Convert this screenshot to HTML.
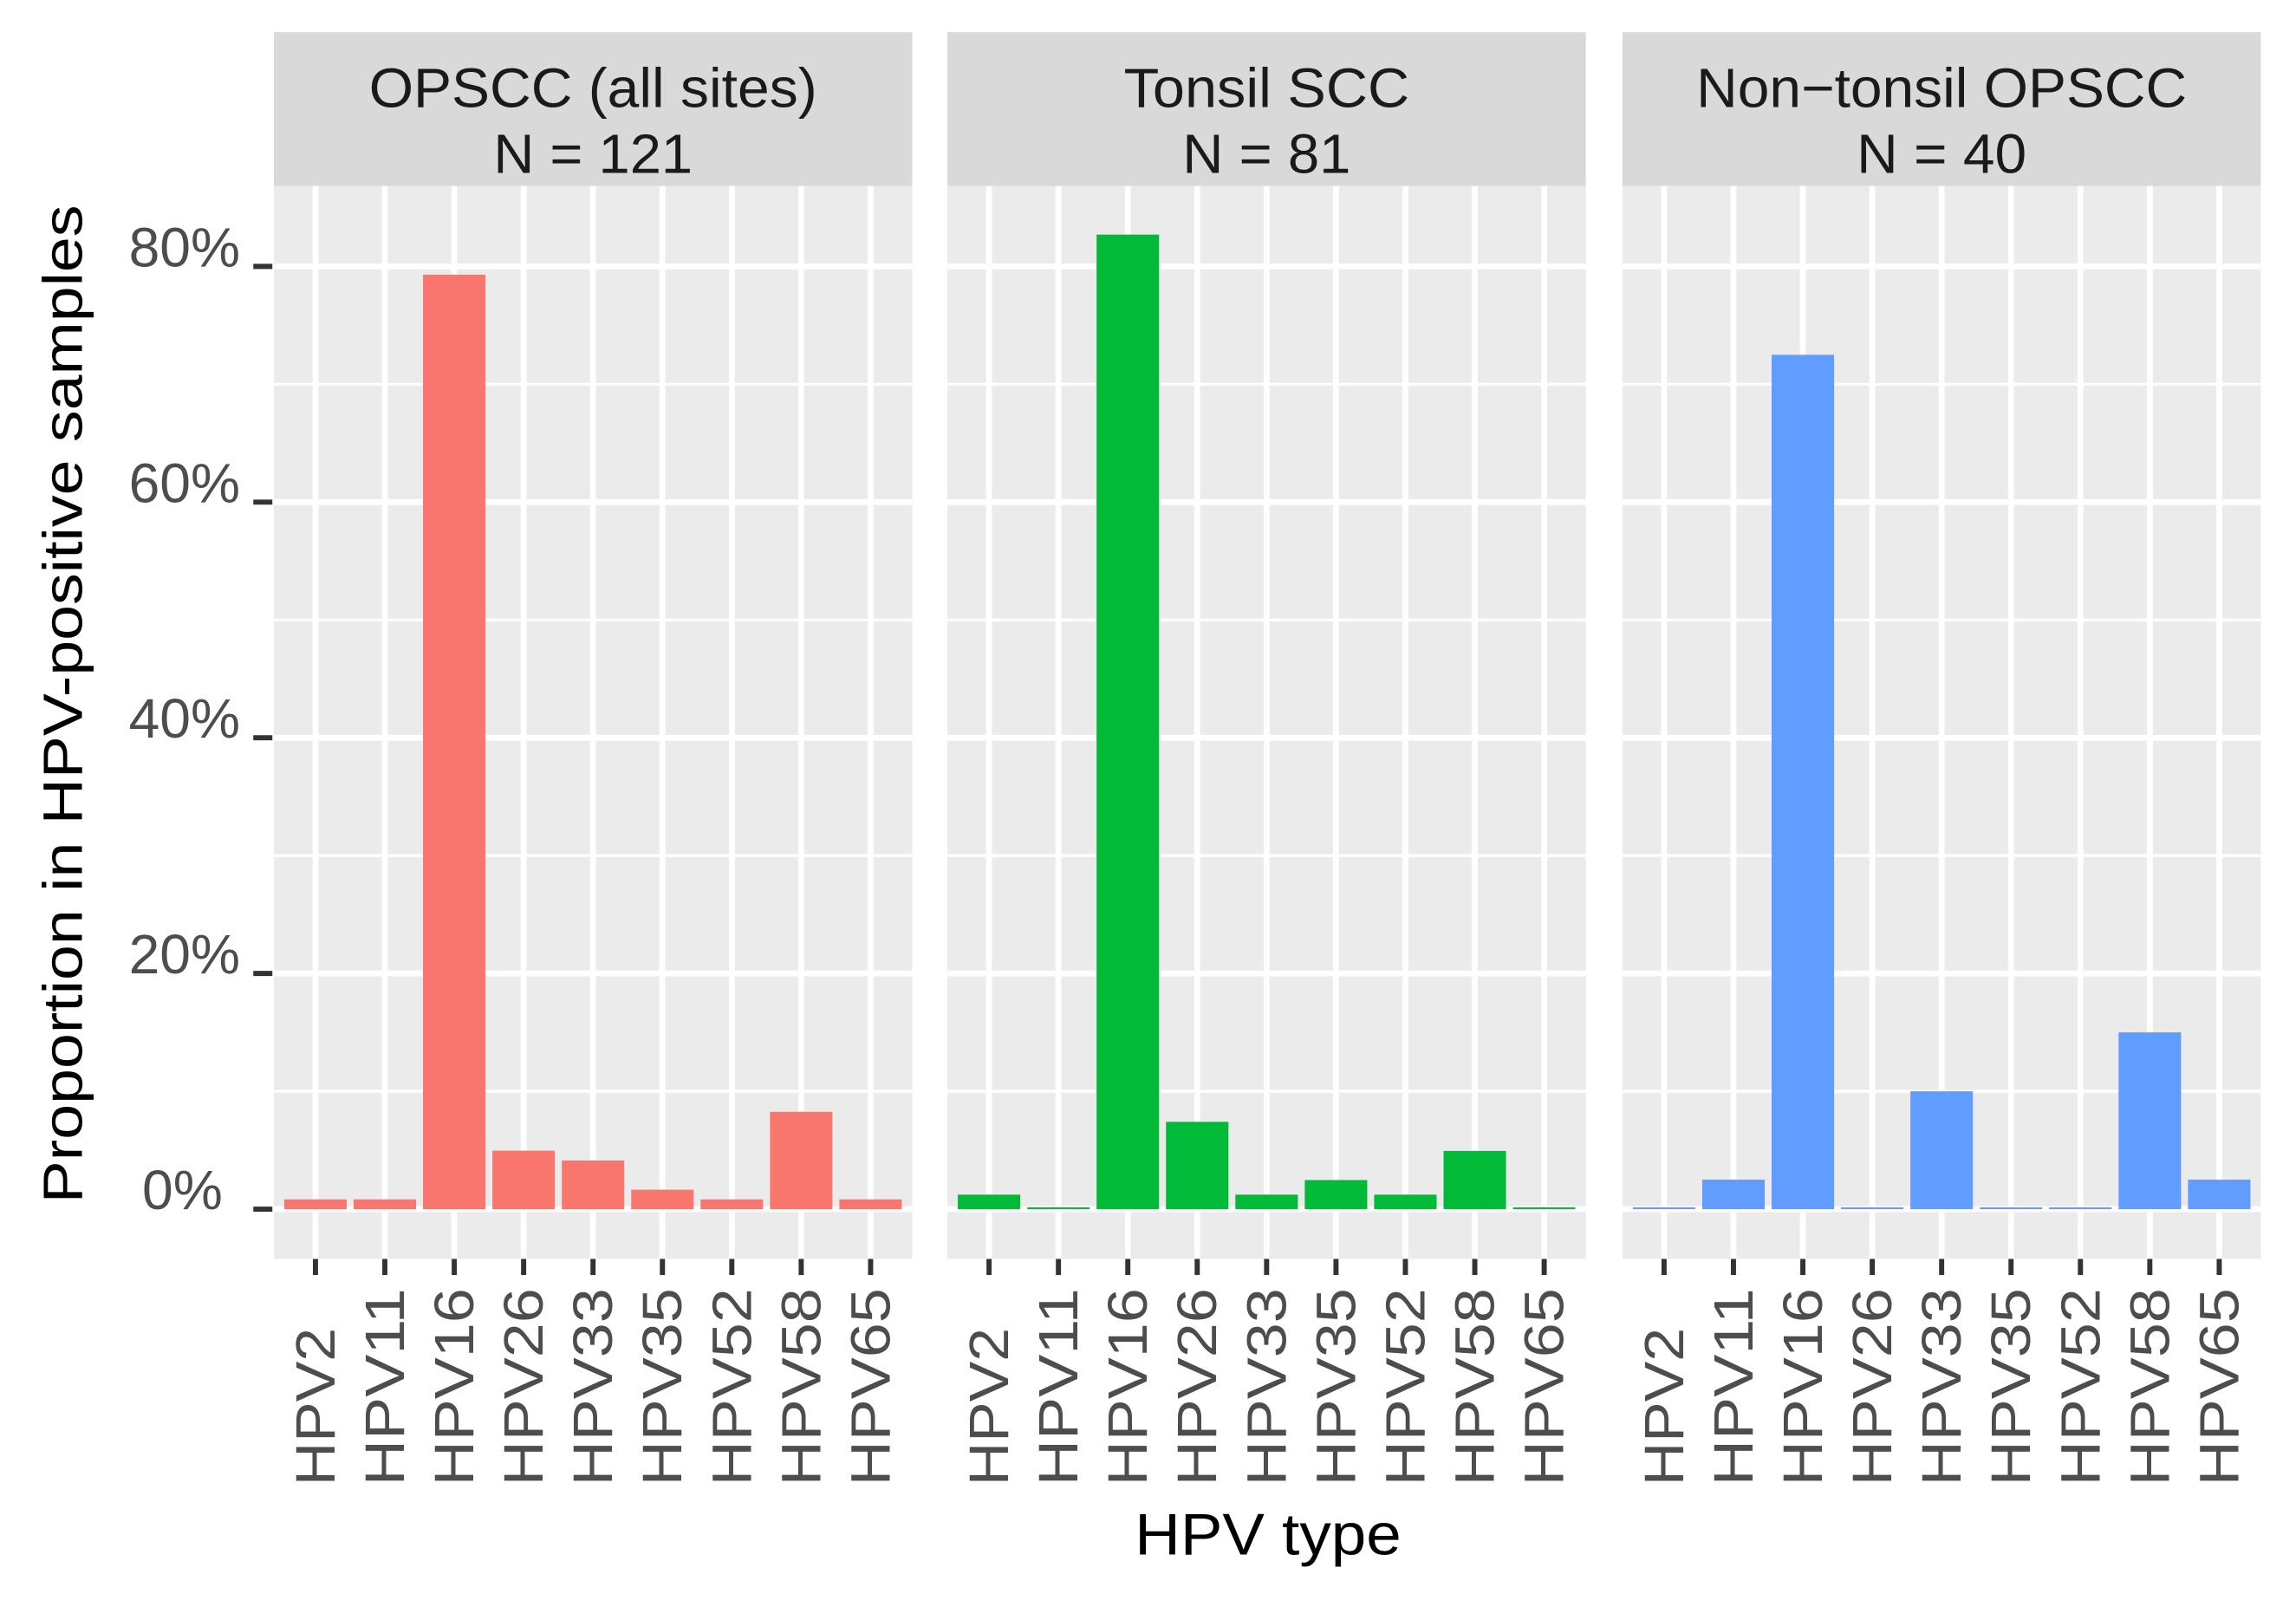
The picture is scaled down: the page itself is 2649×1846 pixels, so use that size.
<!DOCTYPE html>
<html><head><meta charset="utf-8"><style>
html,body{margin:0;padding:0;background:#fff;}
svg{display:block;font-family:"Liberation Sans",Arial,sans-serif;}
</style></head><body>
<svg id="chart" width="2649" height="1846" viewBox="0 0 1568 1093" preserveAspectRatio="none" xmlns="http://www.w3.org/2000/svg">
<g id="root"></g>
</svg>
<script>
const categories = ["HPV2","HPV11","HPV16","HPV26","HPV33","HPV35","HPV52","HPV58","HPV65"];
const panelTitles = ["OPSCC (all sites)","Tonsil SCC","Non\u2212tonsil OPSCC"];
const panelNs = ["N = 121","N = 81","N = 40"];
const seriesOPSCC = [0.83,0.83,79.3,4.96,4.13,1.65,0.83,8.26,0.83];
const seriesTonsil = [1.23,0,82.7,7.41,1.23,2.47,1.23,4.94,0];
const seriesNonTonsil = [0,2.5,72.5,0,10,0,0,15,2.5];
const yTicks = [0,20,40,60,80];
const yMinorTicks = [10,30,50,70];
const yTickLabels = ["0%","20%","40%","60%","80%"];
const colors = ["#F8766D","#00BA38","#619CFF"];
const allSeries = [seriesOPSCC, seriesTonsil, seriesNonTonsil];

const NS = "http://www.w3.org/2000/svg";
const root = document.getElementById("root");
function mk(tag, attrs, parent){ const e=document.createElementNS(NS,tag); for(const k in attrs) e.setAttribute(k,attrs[k]); (parent||root).appendChild(e); return e; }

const panelX = [187,647,1108];
const panelW = 436;
const stripTop = 22, plotTop = 127, plotBot = 860;
const titleLens = [306,195,335];
const nLens = [136,115,116];
function yScale(v){ return 826 - v*(826-182)/80; }
const unit = panelW/(categories.length-1+1.2);
function xScale(px, i){ return px + (0.6+i)*unit; }

panelX.forEach((px, p) => {
  const g = mk("g", {});
  
  
  const strip = mk("rect", {x:px, y:stripTop, width:panelW, height:plotTop-stripTop, fill:"#d9d9d9"}, g);
  
  
  const t1 = mk("text", {x:px+panelW/2, y:73, "text-anchor":"middle", "font-size":38, fill:"#1a1a1a", textLength:titleLens[p], lengthAdjust:"spacingAndGlyphs"}, g);
  t1.textContent = panelTitles[p];
  
  
  const t2 = mk("text", {x:px+panelW/2, y:118, "text-anchor":"middle", "font-size":38, fill:"#1a1a1a", textLength:nLens[p], lengthAdjust:"spacingAndGlyphs"}, g);
  t2.textContent = panelNs[p];
  
  
  const bg = mk("rect", {x:px, y:plotTop, width:panelW, height:plotBot-plotTop, fill:"#ebebeb"}, g);
  
  
  yMinorTicks.forEach(v => {
    const l = mk("line", {x1:px, x2:px+panelW, y1:yScale(v), y2:yScale(v), stroke:"#fff", "stroke-width":2}, g);
    
    
  });
  yTicks.forEach(v => {
    const l = mk("line", {x1:px, x2:px+panelW, y1:yScale(v), y2:yScale(v), stroke:"#fff", "stroke-width":4}, g);
    
    
  });
  categories.forEach((c,i) => {
    const x = xScale(px,i);
    const l = mk("line", {x1:x, x2:x, y1:plotTop, y2:plotBot, stroke:"#fff", "stroke-width":4}, g);
    
    
  });
  const vals = allSeries[p];
  categories.forEach((c,i) => {
    const x = xScale(px,i);
    const top = yScale(vals[i]);
    const h = Math.max(yScale(0)-top, 1.2);
    const b = mk("rect", {x:x-unit*0.45, y:yScale(0)-h, width:unit*0.9, height:h, fill:colors[p]}, g);
    
    
    const tk = mk("line", {x1:x, x2:x, y1:plotBot, y2:plotBot+11, stroke:"#333", "stroke-width":3.5}, g);
    
    
    const lb = mk("text", {x:0, y:0, transform:`translate(${x+13},1015) rotate(-90)`, "font-size":38, fill:"#4d4d4d", "text-anchor":"start"}, g);
    lb.textContent = c;
    lb.setAttribute('textLength', c.length===4 ? 108 : 135);
    lb.setAttribute('lengthAdjust', 'spacingAndGlyphs');
    
    
  });
});
yTicks.forEach((v,k) => {
  const y = yScale(v);
  const tk = mk("line", {x1:173, x2:186, y1:y, y2:y, stroke:"#333", "stroke-width":3.5});
  
  
  const lb = mk("text", {x: v===0?152:164, y:y-0, "text-anchor":"end", "font-size":38, fill:"#4d4d4d"});
  lb.textContent = yTickLabels[k];
  
  
});
const yt = mk("text", {x:0,y:0, transform:"translate(56,481) rotate(-90)", "text-anchor":"middle", "font-size":38, fill:"#000", textLength:682, lengthAdjust:"spacingAndGlyphs"});
yt.textContent = "Proportion in HPV-positive samples";


const xt = mk("text", {x:866, y:1062, "text-anchor":"middle", "font-size":40, fill:"#000", textLength:182, lengthAdjust:"spacingAndGlyphs"});
xt.textContent = "HPV type";


</script>
</body></html>
